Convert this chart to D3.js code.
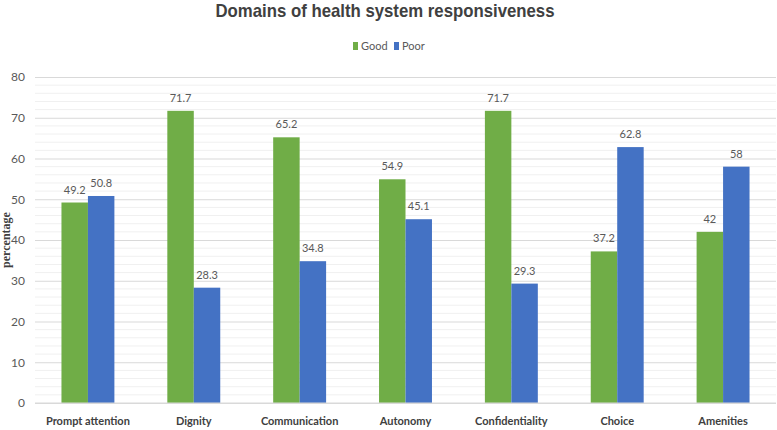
<!DOCTYPE html>
<html>
<head>
<meta charset="utf-8">
<script src="https://cdn.jsdelivr.net/npm/d3@7"></script>
<style>
  body { margin: 0; background: #fff; }
  svg { display: block; }
</style>
</head>
<body>
<div id="chart"></div>
<script>
// categories and the two series
const categories = ["Prompt attention", "Dignity", "Communication", "Autonomy", "Confidentiality", "Choice", "Amenities"];
const seriesNames = ["Good", "Poor"];
const goodValues = [49.2, 71.7, 65.2, 54.9, 71.7, 37.2, 42];
const poorValues = [50.8, 28.3, 34.8, 45.1, 29.3, 62.8, 58];
const yTicks = [0, 10, 20, 30, 40, 50, 60, 70, 80];

const colors = {Good: "#70AD47", Poor: "#4472C4"};

const W = 777, H = 430;

// build rows for the grouped bars
var data = categories.map(function(c, i) {
  return {cat: c, Good: goodValues[i], Poor: poorValues[i]};
});

const svg = d3.select("#chart")
  .append("svg")
  .attr("width", W)
  .attr("height", H)
  .style("font-family", "Lato, 'Open Sans', sans-serif");

//scales
const x0 = d3.scaleBand()
  .domain(categories)
  .range([35, 776])
  .paddingInner(0.5)
  .paddingOuter(0.25);

const x1 = d3.scaleBand()
  .domain(seriesNames)
  .range([0, x0.bandwidth()]);

const y = d3.scaleLinear()
  .domain([0, 80])
  .range([403, 77]);

// minor grid every 2
svg.append("g")
  .selectAll("line")
  .data(d3.range(0, 81, 2).filter(function(v) { return v % 10 !== 0; }))
  .enter().append("line")
  .attr("x1", 35).attr("x2", 776)
  .attr("y1", d => y(d)).attr("y2", d => y(d))
  .attr("stroke", "#f0f0f0")
  .attr("stroke-width", 1);

// y axis with major gridlines
const yAxis = svg.append("g")
  .attr("transform", "translate(35,0)")
  .call(d3.axisLeft(y).tickValues(yTicks).tickSize(-741).tickPadding(10));
yAxis.select(".domain").remove();
yAxis.selectAll(".tick line").attr("stroke", "#d9d9d9");
yAxis.selectAll(".tick text")
  .attr("fill", "#595959")
  .style("font-size", "12px")
  .style("font-family", "Lato, sans-serif");

// bars
const groups = svg.append("g")
  .selectAll("g")
  .data(data)
  .enter().append("g")
  .attr("transform", d => "translate(" + x0(d.cat) + ",0)");

groups.selectAll("rect")
  .data(d => seriesNames.map(k => ({key: k, value: d[k]})))
  .enter().append("rect")
  .attr("x", d => x1(d.key))
  .attr("y", d => y(d.value))
  .attr("width", x1.bandwidth())
  .attr("height", d => y(0) - y(d.value))
  .attr("fill", d => colors[d.key]);

// value labels
groups.selectAll("text")
  .data(d => seriesNames.map(k => ({key: k, value: d[k]})))
  .enter().append("text")
  .attr("x", d => x1(d.key) + x1.bandwidth() / 2)
  .attr("y", d => y(d.value) - 9)
  .attr("text-anchor", "middle")
  .attr("fill", "#595959")
  .style("font-size", "11px")
  .text(d => d.value);

// category labels
const xAxis = svg.append("g")
  .attr("transform", "translate(0,403)")
  .call(d3.axisBottom(x0).tickSize(0).tickPadding(14));
xAxis.select(".domain").remove();
xAxis.selectAll(".tick text")
  .attr("fill", "#404040")
  .style("font-size", "11px")
  .style("font-weight", "bold")
  .style("font-family", "Lato, sans-serif");

// baseline
svg.append("line")
  .attr("x1", 35).attr("x2", 776)
  .attr("y1", y(0)).attr("y2", y(0))
  .attr("stroke", "#d9d9d9");

// title
svg.append("text")
  .attr("x", 385)
  .attr("y", 17)
  .attr("text-anchor", "middle")
  .attr("fill", "#404040")
  .attr("textLength", 339)
  .attr("lengthAdjust", "spacingAndGlyphs")
  .style("font-family", "'Liberation Sans', Arial, sans-serif")
  .style("font-size", "19px")
  .style("font-weight", "bold")
  .text("Domains of health system responsiveness");

// legend
const legend = svg.append("g");
const legX = [353, 394];
seriesNames.forEach(function(k, i) {
  legend.append("rect")
    .attr("x", legX[i]).attr("y", 42)
    .attr("width", 5).attr("height", 8)
    .attr("fill", colors[k]);
  legend.append("text")
    .attr("x", legX[i] + 8).attr("y", 50)
    .attr("fill", "#595959")
    .style("font-size", "11px")
    .text(k);
});

// y axis title
svg.append("text")
  .attr("transform", "translate(10,240) rotate(-90)")
  .attr("text-anchor", "middle")
  .attr("fill", "#404040")
  .style("font-family", "'Liberation Serif', serif")
  .style("font-size", "12px")
  .style("font-weight", "bold")
  .text("percentage");
</script>
</body>
</html>
